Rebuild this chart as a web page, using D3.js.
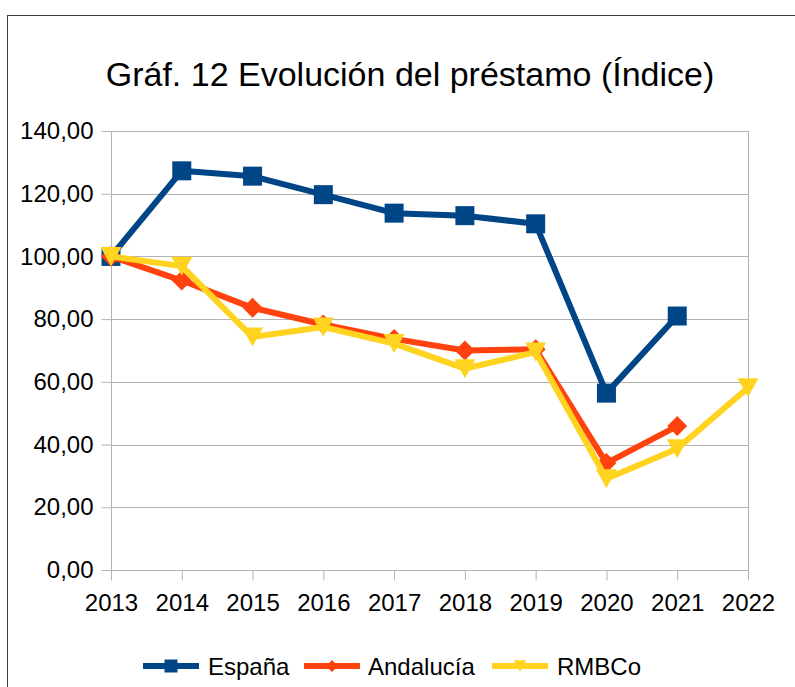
<!DOCTYPE html>
<html>
<head>
<meta charset="utf-8">
<script src="https://cdn.jsdelivr.net/npm/d3@7/dist/d3.min.js"></script>
<style>
  html, body { margin: 0; padding: 0; background: #fff; }
  svg { display: block; font-family: "Liberation Sans", Arial, sans-serif; }
</style>
</head>
<body>
<svg id="chart" width="795" height="687"></svg>
<script>
const years = ["2013","2014","2015","2016","2017","2018","2019","2020","2021","2022"];
const espana    = [100, 127.3, 125.6, 119.7, 113.8, 113.0, 110.4, 56.4, 81.0, null];
const andalucia = [100, 92.3, 83.6, 78.3, 73.7, 70.0, 70.4, 34.1, 45.9, null];
const rmbco     = [100, 96.9, 74.3, 77.5, 72.2, 64.2, 69.5, 29.1, 38.7, 58.1];
const yTicks = [0, 20, 40, 60, 80, 100, 120, 140];
const titleText = "Gráf. 12 Evolución del préstamo (Índice)";
const seriesNames = ["España", "Andalucía", "RMBCo"];

const colors = ["#004586", "#ff420e", "#ffd320"];

const svg = d3.select("#chart");
const pLeft = 111, pRight = 748, pTop = 131, pBottom = 570;

// frame
svg.append("rect").attr("x", 7.5).attr("y", 15.5).attr("width", 800).attr("height", 700)
  .attr("fill", "none").attr("stroke", "#3c3c3c").attr("stroke-width", 1);

const x = d3.scalePoint().domain(years).range([pLeft, pRight]);
const y = d3.scaleLinear().domain([0, 140]).range([pBottom, pTop]);

// title
svg.append("text").attr("x", 410).attr("y", 86).attr("text-anchor", "middle")
  .attr("font-size", 34).attr("fill", "#000").text(titleText);

// gridlines
svg.append("g").selectAll("line").data(yTicks).join("line")
  .attr("x1", pLeft).attr("x2", pRight)
  .attr("y1", d => Math.round(y(d)) + 0.5).attr("y2", d => Math.round(y(d)) + 0.5)
  .attr("stroke", "#b3b3b3").attr("stroke-width", 1);

// right border
svg.append("line").attr("x1", pRight + 0.5).attr("x2", pRight + 0.5).attr("y1", pTop).attr("y2", pBottom + 10)
  .attr("stroke", "#b3b3b3");

// y axis
const fmt = v => d3.format(".2f")(v).replace(".", ",");
const yAxis = svg.append("g").attr("transform", `translate(${pLeft + 0.5},0)`)
  .call(d3.axisLeft(y).tickValues(yTicks).tickFormat(fmt).tickSize(10).tickPadding(8));
yAxis.select(".domain").attr("stroke", "#b3b3b3").attr("d", `M0,${pTop}V${pBottom + 10}`);
yAxis.selectAll(".tick line").attr("stroke", "#b3b3b3");
yAxis.selectAll(".tick text").attr("font-size", 24).attr("fill", "#000")
  .attr("font-family", "Liberation Sans, Arial, sans-serif");

// x axis
const xAxis = svg.append("g").attr("transform", `translate(0,${pBottom + 0.5})`)
  .call(d3.axisBottom(x).tickSize(10).tickPadding(13));
xAxis.select(".domain").remove();
xAxis.selectAll(".tick line").attr("stroke", "#b3b3b3");
xAxis.selectAll(".tick text").attr("font-size", 24).attr("fill", "#000")
  .attr("font-family", "Liberation Sans, Arial, sans-serif");

const allSeries = [espana, andalucia, rmbco];
const line = d3.line().defined(d => d.v !== null).x(d => x(d.year)).y(d => y(d.v));

function drawMarker(g, i, cx, cy, size) {
  let d;
  const h = size / 2;
  if (i === 0) {
    d = `M${cx - h},${cy - h}H${cx + h}V${cy + h}H${cx - h}Z`;
  } else if (i === 1) {
    d = `M${cx},${cy - h}L${cx + h},${cy}L${cx},${cy + h}L${cx - h},${cy}Z`;
  } else {
    const w = size * 1.05 / 2, hh = size * 0.95 / 2;
    d = `M${cx - w},${cy - hh}L${cx + w},${cy - hh}L${cx},${cy + hh}Z`;
  }
  g.append("path").attr("d", d).attr("fill", colors[i]);
}

allSeries.forEach((vals, i) => {
  const data = years.map((yr, k) => ({ year: yr, v: vals[k] }));
  const g = svg.append("g");
  g.append("path").datum(data).attr("d", line)
    .attr("fill", "none").attr("stroke", colors[i]).attr("stroke-width", 6)
    .attr("stroke-linejoin", "round");
  data.filter(d => d.v !== null).forEach(d => {
    drawMarker(g, i, x(d.year), y(d.v), i === 0 ? 19 : 20);
  });
});

// legend
const legendItems = [
  { lx: 143, tx: 208 },
  { lx: 304, tx: 368 },
  { lx: 492, tx: 557 }
];
const ly = 666;
legendItems.forEach((it, i) => {
  const g = svg.append("g");
  g.append("line").attr("x1", it.lx).attr("x2", it.lx + 56).attr("y1", ly).attr("y2", ly)
    .attr("stroke", colors[i]).attr("stroke-width", 6);
  drawMarker(g, i, it.lx + 28, ly, i === 0 ? 13 : 12);
  g.append("text").attr("x", it.tx).attr("y", ly + 9).attr("font-size", 24).attr("fill", "#000")
    .text(seriesNames[i]);
});
</script>
</body>
</html>
